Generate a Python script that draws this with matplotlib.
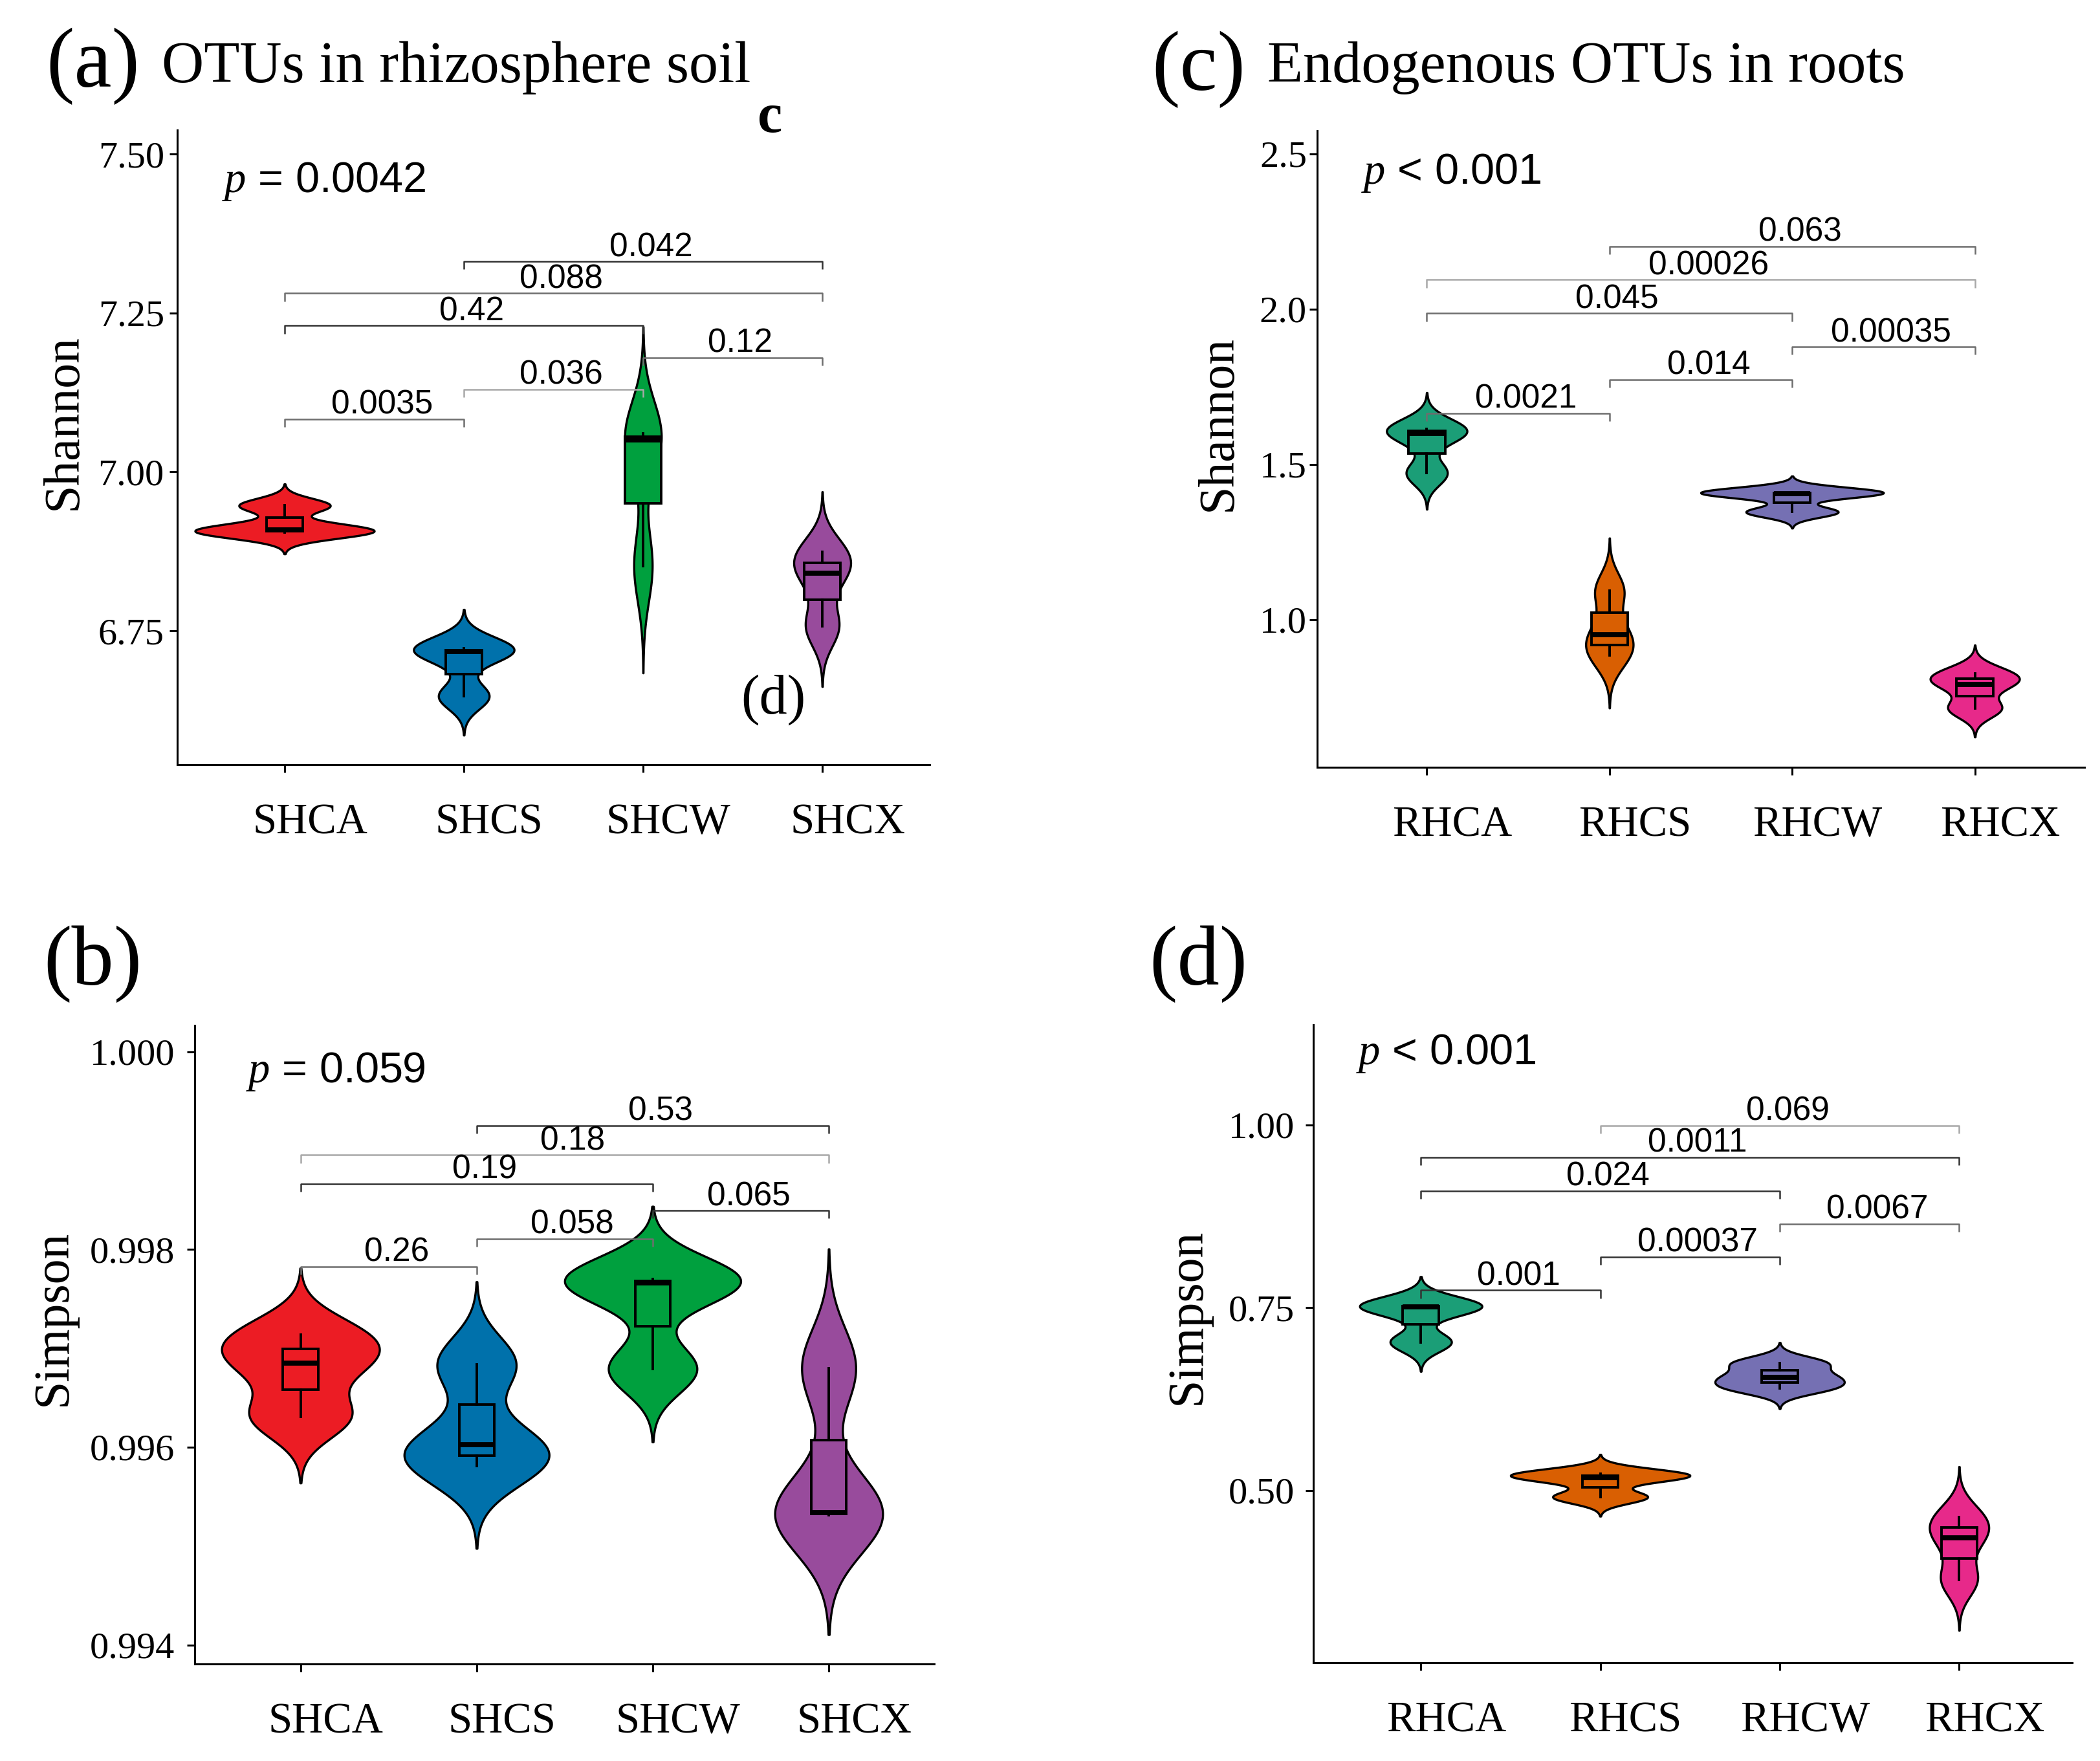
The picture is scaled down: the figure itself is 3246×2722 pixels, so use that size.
import numpy as np
import matplotlib
matplotlib.use("Agg")
import matplotlib.pyplot as plt
from matplotlib.transforms import ScaledTranslation, offset_copy

# ---------------- data (n = 3 per group, read from box/violin) ----------------
soil_groups = ["SHCA", "SHCS", "SHCW", "SHCX"]
root_groups = ["RHCA", "RHCS", "RHCW", "RHCX"]

soil_shannon = [[6.905, 6.909, 6.947],
                [6.647, 6.7175, 6.7225],
                [6.852, 7.050, 7.060],
                [6.757, 6.8405, 6.874]]
soil_simpson = [[0.99631, 0.99685, 0.99714],
                [0.99581, 0.996026, 0.99684],
                [0.99679, 0.99766, 0.99770],
                [0.99531, 0.99534, 0.99680]]
root_shannon = [[1.472, 1.5996, 1.6154],
                [0.885, 0.952, 1.094],
                [1.347, 1.407, 1.411],
                [0.714, 0.7927, 0.827]]
root_simpson = [[0.703, 0.7515, 0.7525],
                [0.4910, 0.5178, 0.5232],
                [0.6400, 0.6548, 0.6745],
                [0.378, 0.4357, 0.4635]]

pairs = [(1, 2), (2, 3), (3, 4), (1, 3), (1, 4), (2, 4)]
a_labels = ["0.0035", "0.036", "0.12", "0.42", "0.088", "0.042"]
a_ypos = [7.0833, 7.130, 7.180, 7.230, 7.281, 7.331]
b_labels = ["0.26", "0.058", "0.065", "0.19", "0.18", "0.53"]
b_ypos = [0.997826, 0.998108, 0.998394, 0.998664, 0.998955, 0.999255]
c_labels = ["0.0021", "0.014", "0.00035", "0.045", "0.00026", "0.063"]
c_ypos = [1.665, 1.773, 1.879, 1.987, 2.095, 2.203]
d_labels = ["0.001", "0.00037", "0.0067", "0.024", "0.0011", "0.069"]
d_ypos = [0.7740, 0.8197, 0.8646, 0.9097, 0.9558, 0.9993]

a_yticks = [6.75, 7.00, 7.25, 7.50]
a_yticklabels = ["6.75", "7.00", "7.25", "7.50"]
b_yticks = [0.994, 0.996, 0.998, 1.000]
b_yticklabels = ["0.994", "0.996", "0.998", "1.000"]
c_yticks = [1.0, 1.5, 2.0, 2.5]
c_yticklabels = ["1.0", "1.5", "2.0", "2.5"]
d_yticks = [0.50, 0.75, 1.00]
d_yticklabels = ["0.50", "0.75", "1.00"]

p_texts = [r"$p$ = 0.0042", r"$p$ = 0.059", r"$p$ < 0.001", r"$p$ < 0.001"]

# ---------------- styling ----------------
W, H, DPI = 3246, 2722, 200
plt.rcParams["font.family"] = ["Liberation Serif", "DejaVu Serif"]
plt.rcParams["mathtext.fontset"] = "custom"
plt.rcParams["mathtext.it"] = "Liberation Serif:italic"
plt.rcParams["mathtext.rm"] = "Liberation Sans"

soil_colors = ["#EC1C24", "#0071AB", "#00A03E", "#984B9C"]
root_colors = ["#1B9E77", "#D95F02", "#7570B3", "#E7298A"]

fig = plt.figure(figsize=(W / DPI, H / DPI), dpi=DPI)
fig.patch.set_facecolor("white")


def fx(x):
    return x / W


def fy(y):
    return 1 - y / H


def add_axes(L, R, T, B):
    return fig.add_axes([L / W, 1 - B / H, (R - L) / W, (B - T) / H])


def kde(vals):
    v = np.asarray(vals, float)
    n = len(v)
    q75, q25 = np.percentile(v, [75, 25])
    sd = v.std(ddof=1)
    bw = 0.9 * min(sd, (q75 - q25) / 1.34) * n ** -0.2
    grid = np.linspace(v.min() - 3 * bw, v.max() + 3 * bw, 512)
    dens = np.exp(-0.5 * ((grid[:, None] - v[None, :]) / bw) ** 2).sum(1) / (n * bw * np.sqrt(2 * np.pi))
    return grid, dens


def panel(ax, data, groups, colors, ylim, xlim, yticks, yticklabels, ylabpad,
          labels, ypos, line_cols):
    ax.set_xlim(*xlim)
    ax.set_ylim(*ylim)
    dens_list = [kde(d) for d in data]
    dmax = max(d[1].max() for d in dens_list)
    for i, (g, dens) in enumerate(dens_list):
        hw = 0.5 * dens / dmax
        ax.fill_betweenx(g, i + 1 - hw, i + 1 + hw, facecolor=colors[i],
                         edgecolor="black", linewidth=1.2, zorder=2)
    bp = ax.boxplot(data, positions=[1, 2, 3, 4], widths=0.2, patch_artist=True,
                    showcaps=False, showfliers=False, whis=1.5, manage_ticks=False,
                    boxprops=dict(edgecolor="black", linewidth=1.4),
                    medianprops=dict(color="black", linewidth=2.8),
                    whiskerprops=dict(color="black", linewidth=1.4), zorder=3)
    for patch, c in zip(bp["boxes"], colors):
        patch.set_facecolor(c)
    # significance brackets
    tip = 0.0125 * (ylim[1] - ylim[0])
    tr = offset_copy(ax.transData, fig=fig, x=12, y=8, units="dots")
    for (a, b), lab, y, lc in zip(pairs, labels, ypos, line_cols):
        ax.plot([a, a, b, b], [y - tip, y, y, y - tip], color=lc, linewidth=0.9,
                solid_capstyle="butt", zorder=4)
        ax.text((a + b) / 2, y, lab, ha="center", va="baseline", fontsize=18.5,
                family=["Liberation Sans", "DejaVu Sans"], transform=tr, zorder=5)
    for s in ["top", "right"]:
        ax.spines[s].set_visible(False)
    for s in ["left", "bottom"]:
        ax.spines[s].set_linewidth(1.1)
        ax.spines[s].set_color("black")
    ax.set_xticks([1, 2, 3, 4])
    ax.set_xticklabels(groups, fontsize=24)
    ax.set_yticks(yticks)
    ax.set_yticklabels(yticklabels, fontsize=21)
    ax.tick_params(axis="x", length=4.3, width=1.1, pad=17)
    ax.tick_params(axis="y", length=4.3, width=1.1, pad=ylabpad)
    shift = ScaledTranslation(39 / DPI, 0, fig.dpi_scale_trans)
    for lab in ax.get_xticklabels():
        lab.set_transform(lab.get_transform() + shift)
    ax.set_facecolor("none")


dark, mid, light = "#333333", "#6e6e6e", "#a8a8a8"

ax_a = add_axes(273.8, 1437.2, 201, 1182)
panel(ax_a, soil_shannon, soil_groups, soil_colors, (6.5394, 7.5377), (0.4, 4.6),
      a_yticks, a_yticklabels, 2.9, a_labels, a_ypos, [mid, light, mid, dark, mid, dark])

ax_b = add_axes(301.3, 1444.3, 1585, 2572)
panel(ax_b, soil_simpson, soil_groups, soil_colors, (0.993808, 1.000266), (0.4, 4.6),
      b_yticks, b_yticklabels, 7.0, b_labels, b_ypos, [mid, mid, dark, dark, light, dark])

ax_c = add_axes(2036, 3222, 202, 1186)
panel(ax_c, root_shannon, root_groups, root_colors, (0.525, 2.575), (0.4, 4.6),
      c_yticks, c_yticklabels, 1.5, c_labels, c_ypos, [mid, mid, mid, mid, light, mid])

ax_d = add_axes(2029.8, 3203, 1584, 2570)
panel(ax_d, root_simpson, root_groups, root_colors, (0.2646, 1.137), (0.4, 4.63),
      d_yticks, d_yticklabels, 6.0, d_labels, d_ypos, [dark, dark, mid, dark, dark, light])

# y-axis titles
for x, y, t in [(99, 652, "Shannon"), (83, 2037, "Simpson"),
                (1884, 654, "Shannon"), (1836, 2035, "Simpson")]:
    fig.text(fx(x), fy(y), t, rotation=90, ha="center", va="center", fontsize=28)

# panel letters and titles
for x, y, t in [(71, 134, "(a)"), (67, 1522, "(b)"), (1780, 139, "(c)"), (1776, 1522, "(d)")]:
    fig.text(fx(x), fy(y), t, ha="left", va="baseline", fontsize=47)
fig.text(fx(250), fy(127), "OTUs in rhizosphere soil", ha="left", va="baseline", fontsize=32.5)
fig.text(fx(1959), fy(127), "Endogenous OTUs in roots", ha="left", va="baseline", fontsize=32.5)

# stray letters present in the original figure
fig.text(fx(1190), fy(204), "c", ha="center", va="baseline", fontsize=31, fontweight="bold")
fig.text(fx(1195), fy(1102), "(d)", ha="center", va="baseline", fontsize=31)

# p-values of global tests
for x, y, t in [(343, 297, p_texts[0]), (380, 1673, p_texts[1]),
                (2104, 284, p_texts[2]), (2096, 1645, p_texts[3])]:
    fig.text(fx(x), fy(y), t, ha="left", va="baseline", fontsize=24,
             family=["Liberation Sans", "DejaVu Sans"])

fig.savefig("out.png", dpi=DPI, facecolor="white")
